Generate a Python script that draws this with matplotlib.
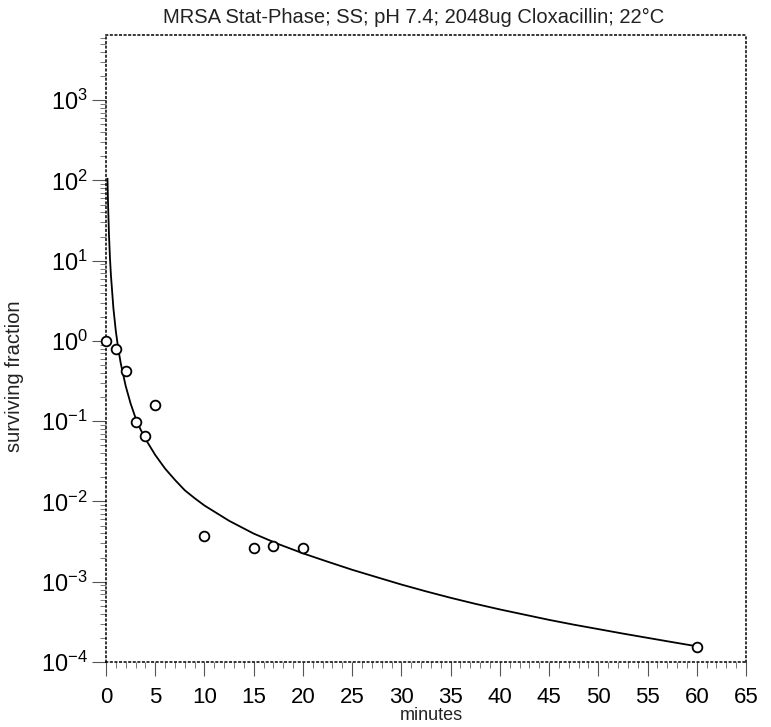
import matplotlib
matplotlib.use("Agg")
import matplotlib.pyplot as plt
from matplotlib.ticker import MultipleLocator, LogLocator, LogFormatterSciNotation, NullFormatter, FixedLocator

plt.rcParams['font.family'] = ['Liberation Sans', 'DejaVu Sans']
plt.rcParams['mathtext.fontset'] = 'custom'
plt.rcParams['mathtext.rm'] = 'Liberation Sans'
plt.rcParams['mathtext.it'] = 'Liberation Sans'
plt.rcParams['mathtext.bf'] = 'Liberation Sans'

title = "MRSA Stat-Phase; SS; pH 7.4; 2048ug Cloxacillin; 22°C"
xlabel = "minutes"
ylabel = "surviving fraction"

# observed points
obs_t = [0, 1, 2, 3, 4, 5, 10, 15, 17, 20, 60]
obs_y = [1.0, 0.79, 0.42, 0.097, 0.065, 0.16, 0.0037, 0.0026, 0.0028, 0.0026, 0.000155]

# fitted curve
fit_t = [0.15, 0.2, 0.3, 0.4, 0.5, 0.75, 1.0, 1.25, 1.5, 2.0, 2.5, 3.0, 3.5, 4.0,
         5, 6, 7, 8, 9, 10, 12.5, 15, 17.5, 20, 22.5, 25, 27.5, 30, 32.5, 35, 37.5,
         40, 42.5, 45, 47.5, 50, 52.5, 55, 57.5, 60]
fit_y = [105, 56.2, 21.4, 11.0, 6.61, 2.57, 1.32, 0.794, 0.525, 0.275, 0.166, 0.110,
         0.0794, 0.0603, 0.0380, 0.0257, 0.0186, 0.0138, 0.0110, 0.00891, 0.00575,
         0.00398, 0.00295, 0.00226, 0.00178, 0.00141, 0.00114, 0.000923, 0.000759,
         0.000631, 0.000531, 0.000452, 0.000389, 0.000335, 0.000292, 0.000257,
         0.000226, 0.000200, 0.000177, 0.000157]

xticks = list(range(0, 70, 5))
yticks = [1e-4, 1e-3, 1e-2, 1e-1, 1e0, 1e1, 1e2, 1e3]

fig = plt.figure(figsize=(7.71, 7.27), dpi=100)
ax = fig.add_axes([106/771, 1-662/727, 640/771, 627/727])

ax.plot(fit_t, fit_y, color='black', lw=1.3, zorder=2)
ax.plot(obs_t, obs_y, linestyle='none', marker='o', markersize=7, markerfacecolor='white',
        markeredgecolor='black', markeredgewidth=1.3, zorder=3, clip_on=False)

ax.set_yscale('log')
ax.set_xlim(0, 65)
ax.set_ylim(1e-4, 6.5e3)

ax.set_xticks(xticks)
ax.xaxis.set_minor_locator(MultipleLocator(1))
ax.yaxis.set_major_locator(FixedLocator(yticks))
ax.yaxis.set_minor_locator(LogLocator(base=10, subs=range(2, 10), numticks=100))
ax.yaxis.set_minor_formatter(NullFormatter())
ax.yaxis.set_major_formatter(LogFormatterSciNotation())

ax.tick_params(axis='both', which='major', direction='out', length=10, width=0.8,
               color='#555555', labelsize=17)
ax.tick_params(axis='x', which='major', labelsize=16, pad=8)
ax.tick_params(axis='both', which='minor', direction='out', length=4, width=0.7,
               color='#777777')
ax.tick_params(axis='y', which='major', pad=3)

for s in ax.spines.values():
    s.set_linestyle((0, (1, 2)))
    s.set_linewidth(1.1)
    s.set_color('black')

fig.text(414/771, 1-17/727, title, fontsize=14.5, color='#222222', ha='center', va='center')
fig.text(431/771, 1-716/727, xlabel, fontsize=13, color='#222222', ha='center', va='center')
fig.text(15/771, 1-376/727, ylabel, fontsize=14.5, color='#222222', ha='center', va='center',
         rotation=90)

fig.savefig("out.png", dpi=100)
